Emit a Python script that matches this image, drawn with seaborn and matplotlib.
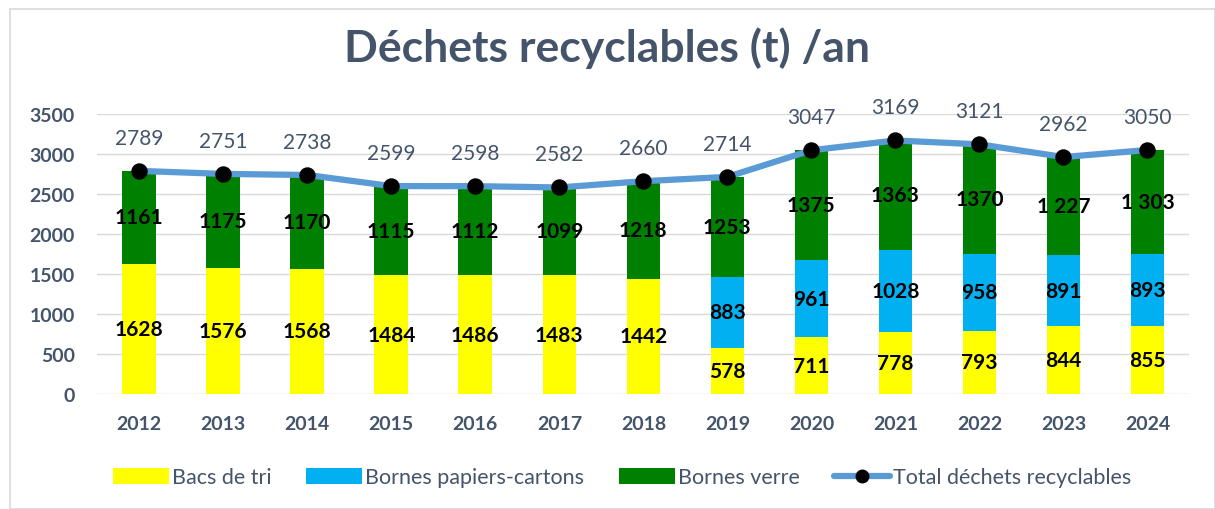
import numpy as np
import pandas as pd
import matplotlib
matplotlib.use("Agg")
import matplotlib.pyplot as plt
from matplotlib.patches import Patch, Rectangle
from matplotlib.lines import Line2D
import seaborn as sns

years = ["2012", "2013", "2014", "2015", "2016", "2017", "2018",
         "2019", "2020", "2021", "2022", "2023", "2024"]
bacs_tri = [1628, 1576, 1568, 1484, 1486, 1483, 1442, 578, 711, 778, 793, 844, 855]
papiers_cartons = [0, 0, 0, 0, 0, 0, 0, 883, 961, 1028, 958, 891, 893]
verre = [1161, 1175, 1170, 1115, 1112, 1099, 1218, 1253, 1375, 1363, 1370, 1227, 1303]
total = [2789, 2751, 2738, 2599, 2598, 2582, 2660, 2714, 3047, 3169, 3121, 2962, 3050]
verre_labels = ["1161", "1175", "1170", "1115", "1112", "1099", "1218", "1253",
                "1375", "1363", "1370", "1 227", "1 303"]
yticks = [0, 500, 1000, 1500, 2000, 2500, 3000, 3500]

series_names = ["Bacs de tri", "Bornes papiers-cartons", "Bornes verre"]
total_name = "Total déchets recyclables"
title = "Déchets recyclables (t) /an"

C_YEL = "#FFFF00"
C_BLU = "#00B0F0"
C_GRN = "#008000"
C_LINE = "#5B9BD5"
C_TXT = "#44546A"

sns.set_theme(style="white")
plt.rcParams["font.family"] = ["Lato", "DejaVu Sans"]

df = pd.DataFrame({"year": years, "bacs": bacs_tri, "pap": papiers_cartons,
                   "verre": verre, "total": total})
df["b2"] = df["bacs"] + df["pap"]

fig = plt.figure(figsize=(12.15, 5.10), dpi=100)
ax = fig.add_axes([0.080, 0.2255, 0.899, 0.549])

w = 0.4
sns.barplot(data=df, x="year", y="bacs", color=C_YEL, width=w, ax=ax,
            saturation=1, linewidth=0, errorbar=None)
sns.barplot(data=df, x="year", y="pap", bottom=df["bacs"], color=C_BLU, width=w,
            ax=ax, saturation=1, linewidth=0, errorbar=None)
sns.barplot(data=df, x="year", y="verre", bottom=df["b2"], color=C_GRN, width=w,
            ax=ax, saturation=1, linewidth=0, errorbar=None)

pos = np.arange(len(years))
sns.lineplot(x=pos, y=df["total"], color=C_LINE, linewidth=4.5, ax=ax, zorder=3)
sns.scatterplot(x=pos, y=df["total"], color="black", s=140, ax=ax, zorder=4,
                edgecolor="black", linewidth=0)

# segment labels
for i in range(len(years)):
    ax.text(i, bacs_tri[i] / 2, str(bacs_tri[i]), ha="center", va="center",
            fontsize=15, fontweight="bold", color="black", zorder=5)
    if papiers_cartons[i] > 0:
        ax.text(i, bacs_tri[i] + papiers_cartons[i] / 2, str(papiers_cartons[i]),
                ha="center", va="center", fontsize=15, fontweight="bold",
                color="black", zorder=5)
    ax.text(i, bacs_tri[i] + papiers_cartons[i] + verre[i] / 2, verre_labels[i],
            ha="center", va="center", fontsize=15, fontweight="bold",
            color="black", zorder=5)
    ax.annotate(str(total[i]), (i, total[i]), xytext=(0, 24),
                textcoords="offset points", ha="center", va="center",
                fontsize=15, color=C_TXT, zorder=5)

ax.set_xlim(-0.5, 12.5)
ax.set_ylim(0, 3500)
ax.set_yticks(yticks)
ax.set_yticklabels([str(v) for v in yticks])
ax.set_xlabel("")
ax.set_ylabel("")
ax.yaxis.grid(True, color="#D9D9D9", linewidth=1)
ax.set_axisbelow(True)
for s in ax.spines.values():
    s.set_visible(False)
ax.tick_params(axis="both", length=0, labelsize=14, labelcolor=C_TXT)
for lab in ax.get_xticklabels() + ax.get_yticklabels():
    lab.set_fontweight("bold")
ax.tick_params(axis="x", pad=15)
ax.tick_params(axis="y", pad=16)

fig.text(0.5, 0.905, title, ha="center", va="center", fontsize=32,
         fontweight="bold", color=C_TXT)

handles = [Patch(facecolor=C_YEL, edgecolor="none"),
           Patch(facecolor=C_BLU, edgecolor="none"),
           Patch(facecolor=C_GRN, edgecolor="none"),
           Line2D([0], [0], color=C_LINE, linewidth=4.5, marker="o",
                  markerfacecolor="black", markeredgecolor="black", markersize=9)]
leg = fig.legend(handles, series_names + [total_name], loc="center",
                 bbox_to_anchor=(0.512, 0.062), ncol=4, frameon=False,
                 fontsize=15.5, handlelength=2.6, handleheight=0.8,
                 handletextpad=0.15, columnspacing=1.6)
for t in leg.get_texts():
    t.set_color(C_TXT)

fig.patches.append(Rectangle((10 / 1215, 0), 1 - 10 / 1215, 1 - 10 / 510,
                             transform=fig.transFigure, fill=False,
                             edgecolor="#D9D9D9", linewidth=1.2))

fig.savefig("out.png", dpi=100)
